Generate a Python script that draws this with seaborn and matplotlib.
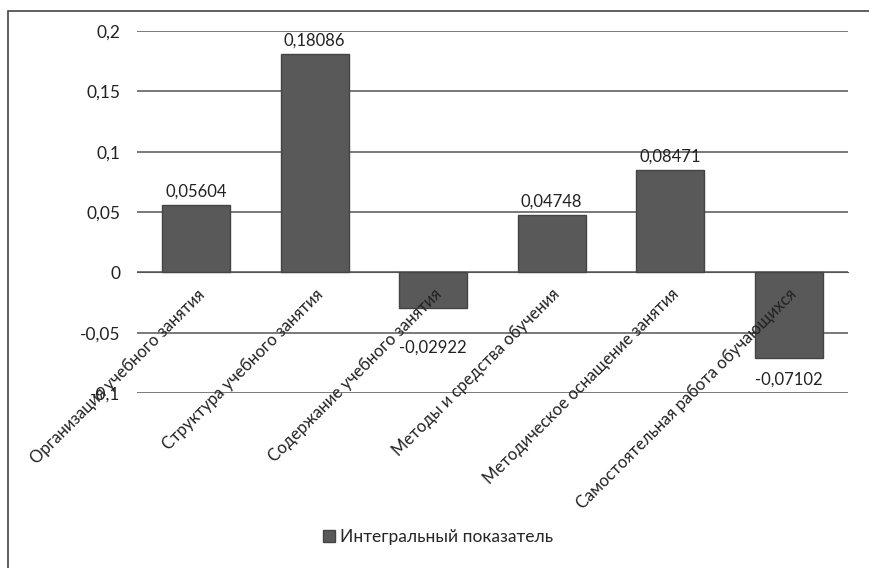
import matplotlib
matplotlib.use("Agg")
import matplotlib.pyplot as plt
import matplotlib.ticker as mticker
from matplotlib.patches import Rectangle
import seaborn as sns
import pandas as pd

categories = [
    "Организация учебного занятия",
    "Структура учебного занятия",
    "Содержание учебного занятия",
    "Методы и средства обучения",
    "Методическое оснащение занятия",
    "Самостоятельная работа обучающихся",
]
values = [0.05604, 0.18086, -0.02922, 0.04748, 0.08471, -0.07102]
series_name = "Интегральный показатель"
y_ticks = [-0.1, -0.05, 0, 0.05, 0.1, 0.15, 0.2]

df = pd.DataFrame({"cat": categories, "val": values, "series": series_name})

sns.set_style("white")
plt.rcParams["font.family"] = ["Lato", "DejaVu Sans"]

fig = plt.figure(figsize=(8.7, 5.68), dpi=100)
ax = fig.add_axes([137 / 870, 1 - 393 / 568, (848 - 137) / 870, (393 - 31) / 568])

sns.barplot(data=df, x="cat", y="val", hue="series", palette=["#595959"],
            width=0.57, edgecolor="#444444", linewidth=1, ax=ax, zorder=2)

ax.set_ylim(-0.1, 0.2)
ax.set_yticks(y_ticks)
ax.yaxis.set_major_formatter(mticker.FuncFormatter(
    lambda v, p: ("%g" % round(v, 3)).replace(".", ",")))
ax.yaxis.grid(True, color="#555555", linewidth=1.1)
ax.yaxis.set_zorder(0.5)
ax.xaxis.set_zorder(5)  # подписи категорий поверх столбцов
for s in ["top", "right", "left"]:
    ax.spines[s].set_visible(False)
ax.spines["bottom"].set_position(("data", 0))
ax.spines["bottom"].set_color("#555555")
ax.spines["bottom"].set_zorder(1)
ax.tick_params(axis="y", length=0, pad=12, labelsize=12.5, labelcolor="#222222")
ax.tick_params(axis="x", length=0, pad=10, labelsize=12, labelcolor="#222222")
ax.set_xticks(range(len(categories)))
ax.set_xticklabels(categories, rotation=45, ha="right", va="top",
                   rotation_mode="anchor")
ax.set_xlabel("")
ax.set_ylabel("")

# подписи данных
extra = [0, 0, 13, 0, 0, 0]
for i, v in enumerate(values):
    off = 4 if v >= 0 else -(10 + extra[i])
    ax.annotate(("%.5f" % v).replace(".", ","), (i, v), xytext=(0, off),
                textcoords="offset points", ha="center",
                va="bottom" if v >= 0 else "top", fontsize=12, color="#222222")

leg = ax.legend(loc="center", bbox_to_anchor=(438 / 870, 1 - 537 / 568),
                bbox_transform=fig.transFigure, frameon=False, fontsize=12.5,
                handlelength=0.7, handleheight=0.7, handletextpad=0.3)

fig.patches.append(Rectangle((8 / 870, -0.02), 1.1, 1 - 11 / 568 + 0.02,
                             transform=fig.transFigure, fill=False,
                             edgecolor="#444444", linewidth=1.2))

fig.savefig("out.png", dpi=100)
